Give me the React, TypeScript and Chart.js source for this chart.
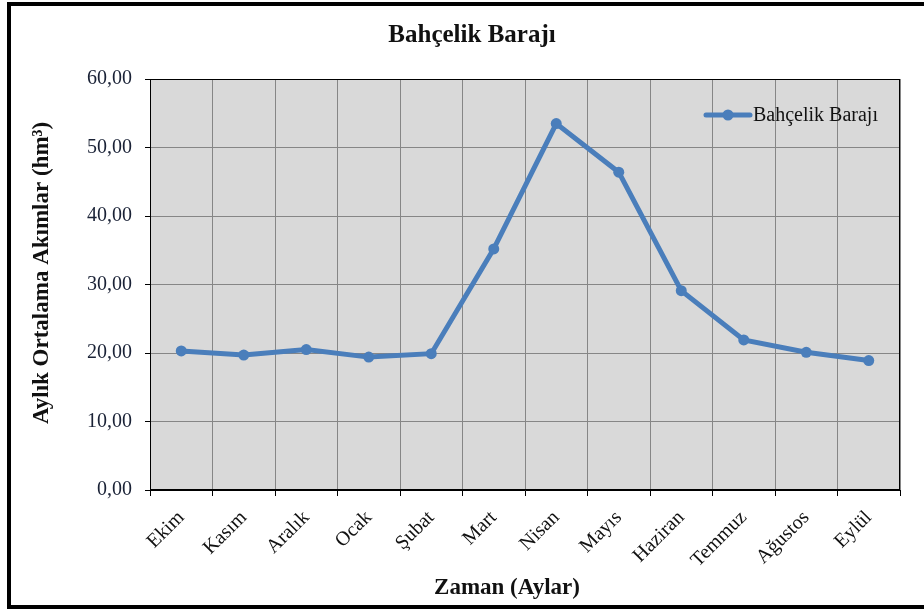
import React, { useEffect, useRef } from "react";
import { Chart, registerables } from "chart.js";

Chart.register(...registerables);

const chartTitle = "Bahçelik Barajı";
const seriesName = "Bahçelik Barajı";
const xTitle = "Zaman (Aylar)";
const yTitle = "Aylık Ortalama Akımlar (hm³)";
const months = ["Ekim", "Kasım", "Aralık", "Ocak", "Şubat", "Mart", "Nisan", "Mayıs", "Haziran", "Temmuz", "Ağustos", "Eylül"];
const flows = [20.3, 19.7, 20.5, 19.4, 19.9, 35.2, 53.5, 46.4, 29.1, 21.9, 20.1, 18.9];
const yMin = 0;
const yMax = 60;
const yStep = 10;

const SERIF = "'Liberation Serif', 'Times New Roman', serif";
const LINE_COLOR = "#4a7ebb";

const decorPlugin = {
  id: "decor",
  beforeDraw(chart: any) {
    const { ctx, chartArea } = chart;
    ctx.save();
    ctx.fillStyle = "#ffffff";
    ctx.fillRect(0, 0, chart.width, chart.height);
    ctx.fillStyle = "#d9d9d9";
    ctx.fillRect(chartArea.left, chartArea.top, chartArea.right - chartArea.left, chartArea.bottom - chartArea.top);
    ctx.restore();
  },
  afterDraw(chart: any) {
    const { ctx, chartArea } = chart;
    ctx.save();
    // plot border
    ctx.strokeStyle = "#000000";
    ctx.lineWidth = 1;
    ctx.strokeRect(Math.round(chartArea.left) + 0.5, Math.round(chartArea.top) + 0.5, Math.round(chartArea.right - chartArea.left) - 1, Math.round(chartArea.bottom - chartArea.top) - 1);

    // outer frame
    ctx.fillStyle = "#000000";
    ctx.fillRect(7, 2, 4, 607);
    ctx.fillRect(7, 2, 917, 4);
    ctx.fillRect(7, 605, 917, 4);

    // title
    ctx.fillStyle = "#111111";
    ctx.textAlign = "center";
    ctx.textBaseline = "alphabetic";
    ctx.font = `bold 25px ${SERIF}`;
    ctx.fillText(chartTitle, 472, 42);

    // x axis title
    ctx.font = `bold 23px ${SERIF}`;
    ctx.fillText(xTitle, 507, 594);

    // y axis title
    ctx.save();
    ctx.translate(48, 273);
    ctx.rotate(-Math.PI / 2);
    ctx.fillText(yTitle, 0, 0);
    ctx.restore();

    // legend
    const ly = 115;
    ctx.strokeStyle = LINE_COLOR;
    ctx.lineWidth = 5;
    ctx.lineCap = "round";
    ctx.beginPath();
    ctx.moveTo(706, ly);
    ctx.lineTo(750, ly);
    ctx.stroke();
    ctx.fillStyle = LINE_COLOR;
    ctx.beginPath();
    ctx.arc(728, ly, 5.5, 0, Math.PI * 2);
    ctx.fill();
    ctx.fillStyle = "#111111";
    ctx.textAlign = "left";
    ctx.textBaseline = "middle";
    ctx.font = `20px ${SERIF}`;
    ctx.fillText(seriesName, 753, ly + 1);
    ctx.restore();
  },
};

export default function App() {
  const canvasRef = useRef<HTMLCanvasElement | null>(null);

  useEffect(() => {
    const canvas = canvasRef.current;
    if (!canvas) return;
    const chart = new Chart(canvas, {
      type: "line",
      data: {
        labels: months,
        datasets: [
          {
            label: seriesName,
            data: flows,
            borderColor: LINE_COLOR,
            backgroundColor: LINE_COLOR,
            borderWidth: 5,
            pointRadius: 5.5,
            pointHoverRadius: 5.5,
            pointBackgroundColor: LINE_COLOR,
            pointBorderWidth: 0,
            tension: 0,
            fill: false,
          },
        ],
      },
      options: {
        responsive: false,
        animation: false,
        events: [],
        layout: { padding: { top: 79, right: 24, left: 0, bottom: 0 } },
        plugins: {
          legend: { display: false },
          title: { display: false },
          tooltip: { enabled: false },
        },
        scales: {
          x: {
            type: "category",
            offset: true,
            afterFit(scale: any) {
              scale.height = 119;
            },
            grid: {
              offset: true,
              color: "#868686",
              lineWidth: 1,
              drawTicks: true,
              tickLength: 6,
              tickColor: "#000000",
            },
            border: { color: "#000000", width: 1 },
            ticks: {
              autoSkip: false,
              maxRotation: 45,
              minRotation: 45,
              padding: 10,
              color: "#111111",
              font: { family: SERIF, size: 20 },
            },
          },
          y: {
            min: yMin,
            max: yMax,
            afterFit(scale: any) {
              scale.width = 150;
            },
            grid: {
              color: "#868686",
              lineWidth: 1,
              drawTicks: true,
              tickLength: 5,
              tickColor: "#000000",
            },
            border: { color: "#000000", width: 1 },
            ticks: {
              stepSize: yStep,
              padding: 13,
              color: "#1a2236",
              font: { family: SERIF, size: 20 },
              callback: (v: any) => Number(v).toFixed(2).replace(".", ","),
            },
          },
        },
      },
      plugins: [decorPlugin],
    });
    return () => chart.destroy();
  }, []);

  return (
    <div style={{ position: "absolute", left: 0, top: 0, width: 924, height: 609, background: "#fff" }}>
      <canvas ref={canvasRef} width={924} height={609} style={{ display: "block" }} />
    </div>
  );
}
